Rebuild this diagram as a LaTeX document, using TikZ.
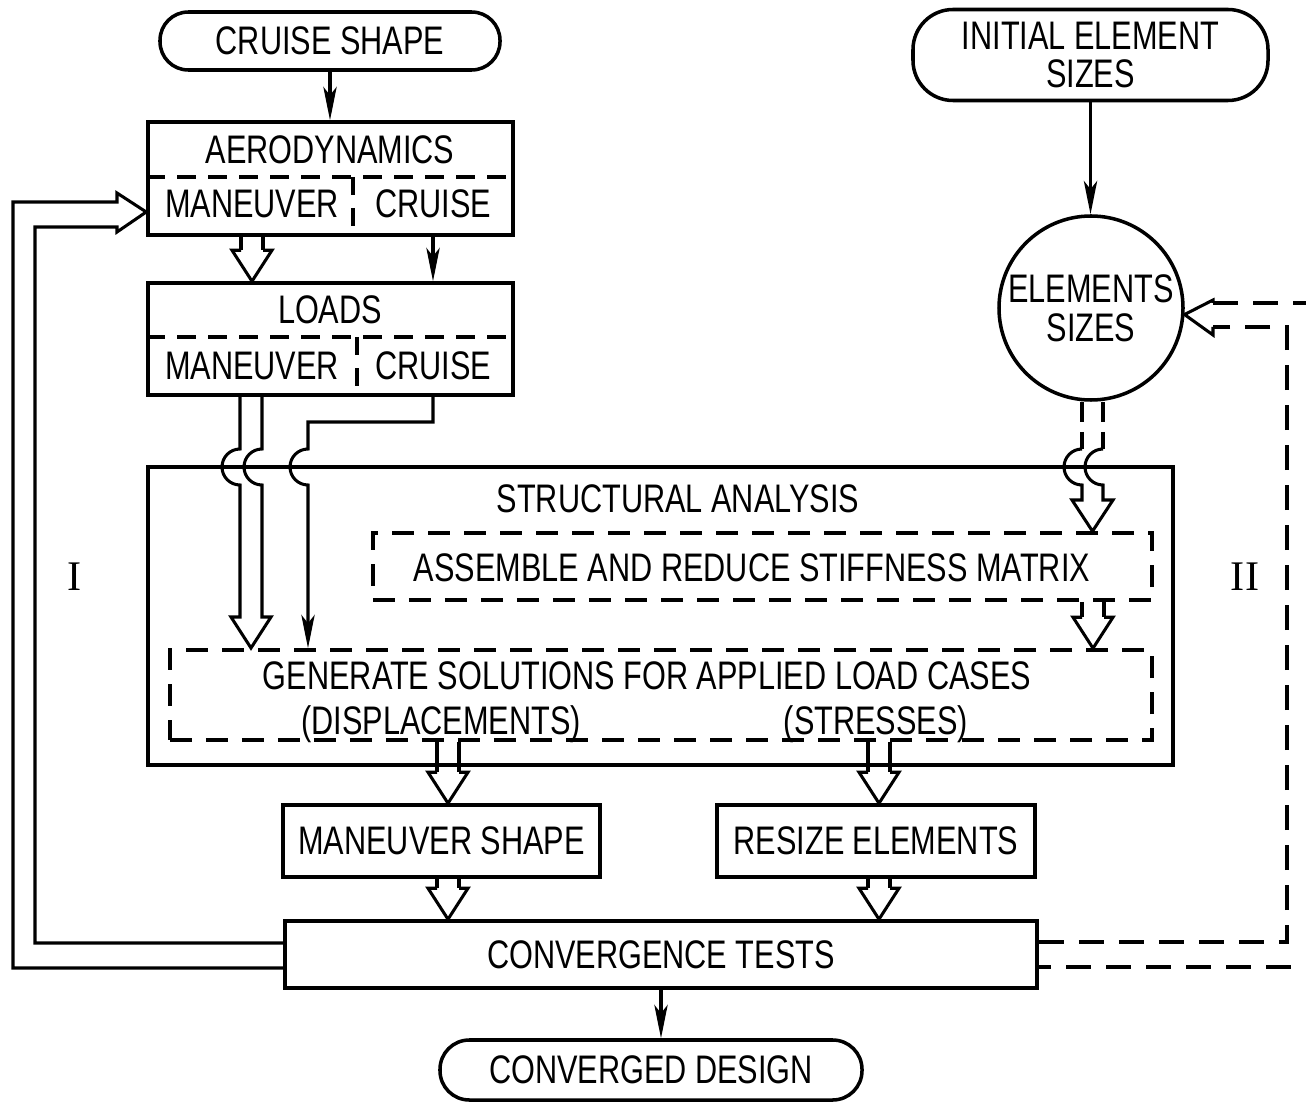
\documentclass[tikz,border=0pt]{standalone}
\usepackage{fontspec}
\setmainfont[FakeStretch=0.77]{Liberation Sans}
\newfontfamily\romanfont{Liberation Serif}
\usetikzlibrary{arrows.meta, positioning}

\tikzset{
  box/.style={draw, line width=3pt, inner sep=0pt, font=\fontsize{34}{33}\selectfont, align=center},
  dbox/.style={box, dash pattern=on 0.66cm off 0.42cm},
  term/.style={box, rounded corners=0.85cm},
  lbl/.style={inner sep=0pt, font=\fontsize{34}{33}\selectfont, text height=0.86cm, text depth=0pt},
  numeral/.style={inner sep=0pt, font=\romanfont\fontsize{36}{36}\selectfont},
  conn/.style={line width=2.6pt},
  dconn/.style={conn, dash pattern=on 0.6cm off 0.3cm},
  divider/.style={line width=2.8pt, dash pattern=on 0.55cm off 0.38cm},
  loopdash/.style={conn, dash pattern=on 0.75cm off 0.45cm},
  tip/.style={-{Stealth[length=1cm,width=0.4cm,inset=0.25cm]}},
}

% hollow head of a fat (double) arrow, #1 = tip
\newcommand{\fathead}[1]{%
  \draw[conn] ([xshift=-0.33cm,yshift=0.93cm]#1) -- ([xshift=-0.6cm,yshift=0.93cm]#1)
    -- (#1) -- ([xshift=0.6cm,yshift=0.93cm]#1) -- ([xshift=0.33cm,yshift=0.93cm]#1);}
% fat arrow from #2 straight down onto the border #3
\newcommand{\fatarrow}[3][]{%
  \coordinate (fatip) at (#2 |- #3);
  \draw[conn,#1] ([xshift=-0.33cm]#2) -- ([xshift=-0.33cm,yshift=0.93cm]fatip);
  \draw[conn,#1] ([xshift=0.33cm]#2) -- ([xshift=0.33cm,yshift=0.93cm]fatip);
  \fathead{fatip}}

\begin{document}
\begin{tikzpicture}[x=0.03cm, y=-0.03cm]
    \clip (0,0) rectangle (1306,1103);

    % Inputs
    \node[term, minimum width=10.2cm, minimum height=1.74cm] (cruise) at (330,41) {CRUISE SHAPE};
    \node[box, rounded corners=1.2cm, minimum width=10.65cm, minimum height=2.73cm] (initial) at (1090.5,55) {INITIAL ELEMENT\\SIZES};

    % Aerodynamics
    \node[box, minimum width=10.95cm, minimum height=3.39cm] (aero) at (330.5,178.5) {};
    \node[lbl] (aerot) at (330,149) {AERODYNAMICS};
    \node[lbl] (aeroman) at (252,203) {MANEUVER};
    \node[lbl] (aerocru) at (433,203) {CRUISE};
    \draw[divider] (aero.west |- 0,177) -- (aero.east |- 0,177);
    \draw[divider] (353,177) -- (aero.south -| 353,0);

    % Loads
    \node[box, minimum width=10.95cm, minimum height=3.36cm] (loads) at (330.5,339) {};
    \node[lbl] (loadst) at (330,309) {LOADS};
    \node[lbl] (loadsman) at (252,365) {MANEUVER};
    \node[lbl] (loadscru) at (433,365) {CRUISE};
    \draw[divider] (loads.west |- 0,337) -- (loads.east |- 0,337);
    \draw[divider] (357,337) -- (loads.south -| 357,0);

    % Element sizes
    \node[box, circle, minimum size=5.52cm] (sizes) at (1091,308) {ELEMENTS\\SIZES};

    % Structural analysis
    \node[box, minimum width=30.75cm, minimum height=8.94cm] (struct) at (660.5,616) {};
    \node[lbl] (structt) at (678,498) {STRUCTURAL ANALYSIS};
    \node[dbox, minimum width=23.37cm, minimum height=2.01cm] (assemble) at (762.5,566.5) {};
    \node[lbl] (assemblet) at (752,567) {ASSEMBLE AND REDUCE STIFFNESS MATRIX};
    \node[dbox, minimum width=29.46cm, minimum height=2.7cm] (generate) at (661,695) {};
    \node[lbl] (generatet) at (647,675) {GENERATE SOLUTIONS FOR APPLIED LOAD CASES};
    \node[lbl] (displ) at (441,720) {(DISPLACEMENTS)};
    \node[lbl] (stress) at (876,720) {(STRESSES)};

    % Outputs
    \node[box, minimum width=9.51cm, minimum height=2.16cm] (manshape) at (441.5,841) {MANEUVER SHAPE};
    \node[box, minimum width=9.54cm, minimum height=2.16cm] (resize) at (876,841) {RESIZE ELEMENTS};
    \node[box, minimum width=22.56cm, minimum height=2.01cm] (conv) at (661,954.5) {CONVERGENCE TESTS};
    \node[term, rounded corners=0.88cm, minimum width=12.66cm, minimum height=1.8cm] (design) at (651,1070) {CONVERGED DESIGN};

    % Loop labels
    \node[numeral] (loopone) at (75,577) {I};
    \node[numeral] (looptwo) at (1245,577) {II};

    % Single arrows
    \draw[conn,tip] (cruise.south) -- (cruise.south |- aero.north);
    \draw[conn,tip] (aerocru |- aero.south) -- (aerocru |- loads.north);
    \draw[conn,tip] (initial.south) -- (initial.south |- sizes.north);
    \draw[conn,tip] (conv.south) -- (conv.south |- design.north);

    % Fat arrows
    \coordinate (aerofat) at (aeroman |- aero.south);
    \fatarrow{aerofat}{loads.north}
    \coordinate (asm) at (assemble.south -| 1093,0);
    \fatarrow{asm}{generate.north}
    \coordinate (gendisp) at (generate.south -| 448,0);
    \fatarrow{gendisp}{manshape.north}
    \coordinate (genstress) at (generate.south -| 879,0);
    \fatarrow{genstress}{resize.north}
    \coordinate (mandown) at (manshape.south -| 448,0);
    \fatarrow{mandown}{conv.north}
    \coordinate (resdown) at (resize.south -| 879,0);
    \fatarrow{resdown}{conv.north}

    % Loads into the analysis, hopping over its frame
    \draw[conn] (loads.south -| 240,0) -- (240,449) arc[start angle=90, end angle=270, radius=0.54cm]
        -- (240,617) -- (231,617) -- (251,648) -- (271,617) -- (262,617)
        -- (262,485) arc[start angle=270, end angle=90, radius=0.54cm] -- (loads.south -| 262,0);
    \draw[conn,tip] (loadscru |- loads.south) |- (308,422) -- (308,449)
        arc[start angle=90, end angle=270, radius=0.54cm] -- (generate.north -| 308,0);

    % Element sizes into the stiffness matrix
    \draw[dconn] (sizes.south -| 1082,0) -- (1082,449);
    \draw[dconn] (sizes.south -| 1103,0) -- (1103,449);
    \draw[conn] (1082,449) arc[start angle=90, end angle=270, radius=0.54cm]
        -- (1082,500) -- (1072,500) -- (assemble.north -| 1092.5,0) -- (1113,500) -- (1103,500)
        -- (1103,485) arc[start angle=270, end angle=90, radius=0.54cm];

    % Loop I
    \draw[conn] (conv.west |- 0,968) -- (13,968) -- (13,202) -- (117,202) -- (117,193)
        -- (aero.west |- 0,212) -- (117,232) -- (117,227) -- (35,227) -- (35,943) -- (conv.west |- 0,943);

    % Loop II
    \draw[loopdash] (conv.east |- 0,942) -- (1287,942) -- (1287,327) -- (1213,327);
    \draw[conn] (1213,327) -- (1213,335) -- (sizes.-4) -- (1213,300) -- (1213,303);
    \draw[loopdash] (1213,303) -- (1340,303) -- (1340,967) -- (conv.east |- 0,967);
\end{tikzpicture}
\end{document}
